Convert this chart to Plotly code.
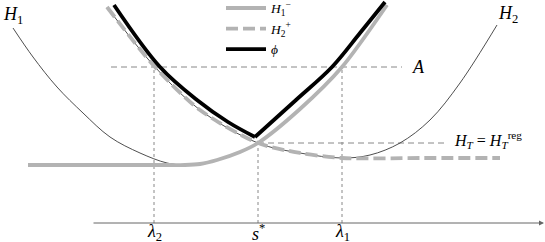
import plotly.graph_objects as go

# ---- values (s along the axis, value above the axis) ----
# thin curve H1
h1_s = [13, 33, 57, 83, 110, 140, 167, 185, 200, 217, 240, 258, 300, 342, 387]
h1_v = [195, 166, 136, 110, 86, 70, 60, 58, 59, 63, 71, 80, 114, 156, 218]
# thin curve H2
h2_s = [107, 155, 200, 258, 300, 342, 370, 400, 430, 460, 497]
h2_v = [216, 156, 113, 80, 70, 65, 68, 80, 103, 140, 198]
# H1^- (flat then H1)
h1m_s = [28, 100, 170, 185, 200, 217, 240, 258, 300, 342, 387]
h1m_v = [58, 58, 58, 58, 59, 63, 71, 80, 114, 156, 218]
# H2^+ (H2 then flat)
h2p_s = [107, 155, 200, 258, 300, 342, 420, 500]
h2p_v = [216, 156, 113, 80, 70, 65, 65, 65]
# phi, left and right branches
phiL_s = [114, 160, 197, 228, 255]
phiL_v = [218, 156, 123, 101, 86]
phiR_s = [255, 296, 332, 360, 385]
phiR_v = [86, 123, 156, 190, 221]

# reference levels / points
A_level = 156
HT_level = 80
lambda2, s_star, lambda1 = 154, 258, 342
axis_start, axis_end = 92, 544
A_start, A_end = 111, 402
HT_end = 447

tick_pos = [lambda2, s_star, lambda1]
tick_text = ["<i>λ</i><sub>2</sub>", "<i>s</i><sup>*</sup>", "<i>λ</i><sub>1</sub>"]

GREY = "#b3b3b3"
THIN = "#3a3a3a"
GUIDE = "#888888"
FONT = "Liberation Serif"

fig = go.Figure()

# guides
fig.add_trace(go.Scatter(x=[A_start, A_end], y=[A_level, A_level], mode="lines",
                         line=dict(color=GUIDE, width=1, dash="6px,4px"), showlegend=False, hoverinfo="skip"))
fig.add_trace(go.Scatter(x=[s_star, HT_end], y=[HT_level, HT_level], mode="lines",
                         line=dict(color=GUIDE, width=1, dash="6px,4px"), showlegend=False, hoverinfo="skip"))
for xv, top in [(lambda2, A_level), (s_star, HT_level), (lambda1, A_level)]:
    fig.add_trace(go.Scatter(x=[xv, xv], y=[0, top], mode="lines",
                             line=dict(color=GUIDE, width=1, dash="3px,3px"), showlegend=False, hoverinfo="skip"))

# thin curves
fig.add_trace(go.Scatter(x=h1_s, y=h1_v, mode="lines", line=dict(color=THIN, width=0.9, shape="spline"),
                         showlegend=False, hoverinfo="skip"))
fig.add_trace(go.Scatter(x=h2_s, y=h2_v, mode="lines", line=dict(color=THIN, width=0.9, shape="spline"),
                         showlegend=False, hoverinfo="skip"))

# thick curves
fig.add_trace(go.Scatter(x=h1m_s, y=h1m_v, mode="lines", name="<i>H</i><sub>1</sub><sup>−</sup>",
                         line=dict(color=GREY, width=3.8, shape="spline", smoothing=0.8)))
fig.add_trace(go.Scatter(x=h2p_s, y=h2p_v, mode="lines", name="<i>H</i><sub>2</sub><sup>+</sup>",
                         line=dict(color=GREY, width=3.8, dash="12px,5px", shape="spline", smoothing=0.8)))
fig.add_trace(go.Scatter(x=phiL_s, y=phiL_v, mode="lines", name="<i>ϕ</i>", legendgroup="phi",
                         line=dict(color="black", width=3.8, shape="spline")))
fig.add_trace(go.Scatter(x=phiR_s, y=phiR_v, mode="lines", name="<i>ϕ</i>", legendgroup="phi", showlegend=False,
                         line=dict(color="black", width=3.8, shape="spline")))

# axis with arrow
fig.add_annotation(x=axis_end, y=0, ax=axis_start, ay=0, xref="x", yref="y", axref="x", ayref="y",
                   text="", showarrow=True, arrowhead=2, arrowsize=1, arrowwidth=1, arrowcolor="#666666")

# tick labels
for xv, t in zip(tick_pos, tick_text):
    fig.add_annotation(x=xv, y=-9, text=t, showarrow=False, font=dict(family=FONT, size=18, color="black"))

# curve labels
fig.add_annotation(x=13, y=208, text="<i>H</i><sub>1</sub>", showarrow=False,
                   font=dict(family=FONT, size=18, color="black"))
fig.add_annotation(x=508, y=209, text="<i>H</i><sub>2</sub>", showarrow=False,
                   font=dict(family=FONT, size=18, color="black"))
fig.add_annotation(x=418, y=A_level, text="<i>A</i>", showarrow=False,
                   font=dict(family=FONT, size=18, color="black"))
fig.add_annotation(x=452, y=HT_level + 3, xanchor="left",
                   text="<i>H</i><sub><i>T</i></sub> = <i>H</i><sub><i>T</i></sub><sup>reg</sup>",
                   showarrow=False, font=dict(family=FONT, size=16, color="black"))

fig.update_layout(
    width=545, height=242,
    margin=dict(l=0, r=0, t=0, b=0, autoexpand=False),
    paper_bgcolor="white", plot_bgcolor="white",
    xaxis=dict(range=[0, 545], visible=False, fixedrange=True),
    yaxis=dict(range=[-19, 223], visible=False, fixedrange=True),
    legend=dict(x=221 / 545, y=1.03, xanchor="left", yanchor="top", bgcolor="rgba(0,0,0,0)",
                font=dict(family=FONT, size=13.5, color="black"), tracegroupgap=0, itemwidth=40),
    showlegend=True,
)

fig.write_html("out.html", config={"displayModeBar": False},
               post_script="document.body.style.margin='0';document.body.style.padding='0';")
